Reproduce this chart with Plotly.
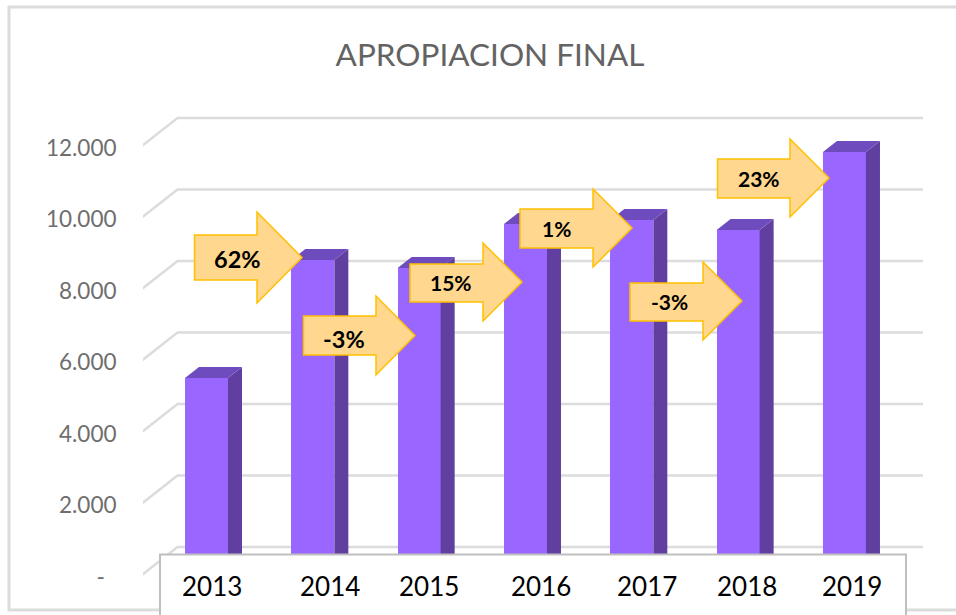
import plotly.graph_objects as go

YEARS = ["2013", "2014", "2015", "2016", "2017", "2018", "2019"]
VALUES = [5273, 8573, 8350, 9580, 9690, 9413, 11595]
Y_TICKS = [0, 2000, 4000, 6000, 8000, 10000, 12000]
Y_LABELS = ["-\u00a0\u00a0", "2.000", "4.000", "6.000", "8.000", "10.000", "12.000"]
ARROW_LABELS = ["62%", "-3%", "15%", "1%", "-3%", "23%"]
TITLE = "APROPIACION FINAL"

W, H = 956, 615
ML = 143
PX_PER_CAT = 106.33
PX_PER_UNIT = 0.03575
X0_PX, Y0_PX = 206.5, 575

def ux(px): return px / PX_PER_CAT
def uy(px): return px / PX_PER_UNIT
def paper_x(px): return (px - ML) / (W - ML)
def paper_y(py): return 1 - py / H

BAR_LIFT = uy(8.5)
BAR_W = ux(43)
BAR_DX, BAR_DY = ux(14), uy(11)
WALL_DX, WALL_DY = ux(35.5), uy(28)
GRID_LEFT = (142 - X0_PX) / PX_PER_CAT
GRID_RIGHT = (923 - X0_PX) / PX_PER_CAT

FONT = "Lato, 'Open Sans', sans-serif"
GRID = "#dcdcdc"
xs = list(range(len(YEARS)))

fig = go.Figure()
fig.add_trace(go.Bar(x=xs, y=VALUES, base=BAR_LIFT, width=BAR_W, marker=dict(color="#9966ff", line=dict(width=0)),
                     showlegend=False, hoverinfo="skip"))

for i, v in zip(xs, VALUES):
    r = i + BAR_W / 2
    l = i - BAR_W / 2
    t = v + BAR_LIFT
    fig.add_trace(go.Scatter(
        x=[r, r + BAR_DX, r + BAR_DX, r, r],
        y=[BAR_LIFT, BAR_LIFT + BAR_DY, t + BAR_DY, t, BAR_LIFT],
        mode="lines", line=dict(width=0), fill="toself", fillcolor="#613fa0",
        showlegend=False, hoverinfo="skip"))
    fig.add_trace(go.Scatter(
        x=[l, r, r + BAR_DX, l + BAR_DX, l],
        y=[t, t, t + BAR_DY, t + BAR_DY, t],
        mode="lines", line=dict(width=0), fill="toself", fillcolor="#6f4cbd",
        showlegend=False, hoverinfo="skip"))

shapes = []
back_x = GRID_LEFT + WALL_DX
for tick in Y_TICKS:
    shapes.append(dict(type="path", xref="x", yref="y", layer="below",
                       path=f"M{GRID_LEFT},{tick} L{back_x},{tick + WALL_DY} L{GRID_RIGHT},{tick + WALL_DY}",
                       line=dict(color=GRID, width=2.5)))

def paper_path(points):
    return "M" + " L".join(f"{paper_x(x)},{paper_y(y)}" for x, y in points) + " Z"

# outer chart frame (open on the right)
frame = [(957, 7), (9, 7), (9, 610), (957, 610)]
shapes.append(dict(type="path", xref="paper", yref="paper", layer="below",
                   path="M" + " L".join(f"{paper_x(x)},{paper_y(y)}" for x, y in frame),
                   line=dict(color=GRID, width=3)))

# white box over the axis, holding the years
shapes.append(dict(type="path", xref="paper", yref="paper", layer="above",
                   path=paper_path([(160, 554.5), (906, 554.5), (906, 620), (160, 620)]),
                   fillcolor="white", line=dict(color="#bfbfbf", width=2)))

# (left, body top, body bottom, head x, head top, head bottom, tip)
ARROW_GEOM = [
    (194.5, 235, 280, 257, 212, 303, 302),
    (303.5, 316, 355, 376, 296, 375, 415),
    (410, 264, 302, 483, 243, 321, 522),
    (520, 209, 248, 593, 189, 267, 632),
    (630, 283, 321, 703, 262, 340, 742),
    (717.5, 159, 198, 790, 139, 217, 829),
]
TEXT_POS = [(237, 259, 23.5), (344, 339, 23.5), (451, 282, 21), (556, 229, 21), (669, 302, 21), (759, 179, 21)]

annotations = []
for (l, bt, bb, hx, ht, hb, tip), label, (tx, ty, ts) in zip(ARROW_GEOM, ARROW_LABELS, TEXT_POS):
    mid = (ht + hb) / 2
    shapes.append(dict(type="path", xref="paper", yref="paper", layer="above",
                       path=paper_path([(l, bt), (hx, bt), (hx, ht), (tip, mid), (hx, hb), (hx, bb), (l, bb)]),
                       fillcolor="#ffd78e", line=dict(color="#ffc000", width=1.5)))
    annotations.append(dict(xref="paper", yref="paper", x=paper_x(tx), y=paper_y(ty), text=f"<b>{label}</b>",
                            showarrow=False, xanchor="center", yanchor="middle",
                            font=dict(family=FONT, size=ts, color="black")))

YEAR_PX = [212, 330, 429, 541, 647, 747, 852]
for label, px in zip(YEARS, YEAR_PX):
    annotations.append(dict(xref="paper", yref="paper", x=paper_x(px), y=paper_y(585.5), text=label,
                            showarrow=False, xanchor="center", yanchor="middle",
                            font=dict(family=FONT, size=26, color="black")))

fig.update_layout(
    width=W, height=H, autosize=False,
    margin=dict(l=ML, r=0, t=0, b=0, pad=0),
    paper_bgcolor="white", plot_bgcolor="white",
    showlegend=False, bargap=0,
    title=dict(text=TITLE, x=490 / W, y=1 - 55 / H, xanchor="center", yanchor="middle",
               xref="container", yref="container",
               font=dict(family=FONT, size=31.5, color="#636363")),
    xaxis=dict(range=[(ML - X0_PX) / PX_PER_CAT, (W - X0_PX) / PX_PER_CAT], showgrid=False, zeroline=False,
               showticklabels=False, ticks="", showline=False, fixedrange=True),
    yaxis=dict(range=[uy(Y0_PX - H), uy(Y0_PX)], showgrid=False, zeroline=False, showline=False,
               tickmode="array", tickvals=Y_TICKS, ticktext=Y_LABELS,
               ticks="outside", ticklen=21, tickcolor="rgba(0,0,0,0)", tickwidth=1,
               ticklabelshift=2,
               tickfont=dict(family=FONT, size=22.5, color="#6e6e6e"), fixedrange=True),
    shapes=shapes, annotations=annotations,
)

fig.write_html("out.html", post_script="document.body.style.margin='0';document.documentElement.style.overflow='hidden';",
               config=dict(displayModeBar=False))
